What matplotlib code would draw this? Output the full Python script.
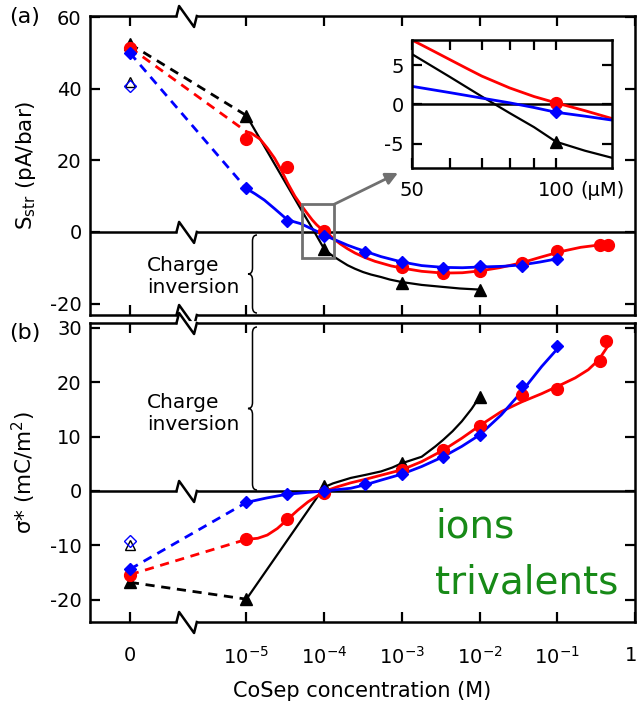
import numpy as np
import matplotlib
matplotlib.use("Agg")
import matplotlib.pyplot as plt
import matplotlib.transforms as mtransforms
from matplotlib.path import Path
from matplotlib.patches import PathPatch, Rectangle
from matplotlib.ticker import NullLocator, FixedLocator, NullFormatter

plt.rcParams["axes.unicode_minus"] = False
plt.rcParams["font.family"] = ["DejaVu Sans"]

# ---------------- data (concentration in M) ----------------
# panel (a): streaming conductance S_str (pA/bar)
conc_tri_a = [0, 1e-5, 1e-4, 1e-3, 1e-2]
tri_a = [52.5, 32.5, -4.8, -14.3, -16.1]
conc_circ_a = [0, 1e-5, 3.3e-5, 1e-4, 1e-3, 3.4e-3, 1e-2, 3.5e-2, 1e-1, 0.35, 0.45]
circ_a = [51.5, 26.0, 18.0, 0.2, -9.8, -11.5, -10.8, -8.7, -5.2, -3.6, -3.7]
conc_dia_a = [0, 1e-5, 3.3e-5, 1e-4, 3.4e-4, 1e-3, 3.4e-3, 1e-2, 3.5e-2, 1e-1]
dia_a = [50.0, 12.2, 3.1, -1.0, -5.5, -8.5, -10.1, -9.4, -9.6, -7.6]
open_tri_a, open_dia_a = 41.8, 40.8

fit_tri_a_x = [1e-5, 5e-5, 7.5e-5, 1e-4, 1.1e-4, 1.2e-4, 1.31e-4, 1.6e-4, 2e-4, 2.5e-4, 3.16e-4,
               4e-4, 5.4e-4, 7e-4, 1e-3, 1.8e-3, 3.16e-3, 5.6e-3, 1e-2]
fit_tri_a_y = [32.5, 6.4, 0.0, -4.75, -5.5, -6.2, -6.8, -8.0, -9.3, -10.3, -11.2,
               -11.9, -12.6, -13.3, -14.0, -14.8, -15.3, -15.8, -16.1]
fit_circ_a_x = [1e-5, 1.15e-5, 1.5e-5, 1.86e-5, 2.3e-5, 2.8e-5, 3.4e-5, 4.2e-5, 5e-5, 6e-5, 7e-5,
                8e-5, 9e-5, 1e-4, 1.15e-4, 1.31e-4, 1.6e-4, 2e-4, 2.5e-4, 3.3e-4, 4.5e-4, 7.3e-4,
                1e-3, 1.8e-3, 3.4e-3, 6e-3, 1e-2, 1.8e-2, 3.5e-2, 6e-2, 1.1e-1, 0.2, 0.36]
fit_circ_a_y = [28.0, 27.6, 25.9, 23.4, 20.6, 17.3, 13.6, 10.0, 7.6, 5.3, 3.4,
                2.0, 1.0, 0.2, -0.7, -1.8, -3.3, -4.7, -5.9, -7.1, -8.2, -9.5,
                -10.1, -11.0, -11.5, -11.4, -10.9, -10.0, -8.6, -7.1, -5.5, -4.3, -3.6]
fit_dia_a_x = [1e-5, 1.3e-5, 1.7e-5, 2.3e-5, 3.2e-5, 4e-5, 5e-5, 6e-5, 7e-5, 8e-5, 9e-5, 1e-4,
               1.31e-4, 1.6e-4, 2e-4, 2.6e-4, 3.46e-4, 5.4e-4, 1e-3, 1.8e-3, 3.4e-3, 6e-3, 1e-2,
               2e-2, 3.5e-2, 6e-2, 1e-1]
fit_dia_a_y = [12.1, 10.6, 8.9, 6.5, 3.8, 2.9, 2.3, 1.5, 0.8, 0.2, -0.3, -0.9,
               -2.0, -2.8, -3.7, -4.6, -5.5, -6.9, -8.4, -9.4, -9.9, -10.0, -9.8,
               -9.6, -9.2, -8.4, -7.5]

# panel (b): effective charge sigma* (mC/m2)
conc_tri_b = [0, 1e-5, 1e-4, 1e-3, 1e-2]
tri_b = [-16.8, -19.9, 0.9, 5.1, 17.3]
conc_circ_b = [0, 1e-5, 3.3e-5, 1e-4, 1e-3, 3.4e-3, 1e-2, 3.5e-2, 1e-1, 0.35, 0.42]
circ_b = [-15.4, -8.9, -5.2, -0.3, 3.9, 7.5, 11.9, 17.6, 18.7, 23.9, 27.6]
conc_dia_b = [0, 1e-5, 3.3e-5, 1e-4, 3.4e-4, 1e-3, 3.4e-3, 1e-2, 3.5e-2, 1e-1]
dia_b = [-14.4, -2.1, -0.6, 0.0, 1.3, 3.1, 6.3, 10.3, 19.3, 26.7]
open_tri_b, open_dia_b = -9.9, -9.2

fit_tri_b_x = [1e-5, 1e-4, 1.3e-4, 2.2e-4, 3.5e-4, 5.4e-4, 7.5e-4, 1e-3, 1.8e-3, 2.7e-3, 3.4e-3,
               4.5e-3, 5.9e-3, 7.9e-3, 1e-2]
fit_tri_b_y = [-19.9, 0.7, 1.4, 2.4, 3.0, 3.6, 4.3, 5.1, 6.3, 8.2, 9.4,
               11.0, 12.8, 15.1, 17.3]
fit_circ_b_x = [1e-5, 1.4e-5, 1.86e-5, 2.5e-5, 3.4e-5, 4.6e-5, 6.2e-5, 1e-4, 1.5e-4, 2.2e-4,
                3.5e-4, 5.4e-4, 1e-3, 1.8e-3, 3.4e-3, 5.9e-3, 1e-2, 1.9e-2, 3.5e-2, 6.3e-2,
                1.1e-1, 0.17, 0.25, 0.34, 0.46]
fit_circ_b_y = [-8.9, -8.7, -8.1, -6.9, -5.2, -3.5, -2.0, -0.1, 0.8, 1.5,
                2.2, 2.9, 3.9, 5.4, 7.5, 9.7, 12.0, 14.6, 16.4, 17.9,
                19.5, 20.8, 22.3, 24.1, 26.9]
fit_dia_b_x = [1e-5, 1.8e-5, 3.3e-5, 1e-4, 2.2e-4, 3.5e-4, 5.4e-4, 1e-3, 1.8e-3, 3.4e-3, 5.9e-3,
               1e-2, 1.9e-2, 3.5e-2, 6.3e-2, 1.1e-1]
fit_dia_b_y = [-2.1, -1.3, -0.6, 0.0, 0.5, 1.2, 2.0, 3.1, 4.5, 6.3, 8.2,
               10.3, 14.0, 18.3, 22.9, 26.8]

# inset (concentration in uM)
inset_x_tri = [50, 60, 70, 80, 90, 100, 115, 131]
inset_y_tri = [6.4, 3.5, 1.0, -1.1, -2.9, -4.75, -5.9, -6.8]
inset_x_circ = [50, 55, 60, 65, 70, 80, 90, 100, 115, 131]
inset_y_circ = [8.2, 6.9, 5.7, 4.6, 3.6, 2.1, 1.0, 0.2, -0.8, -1.8]
inset_x_dia = [50, 60, 70, 80, 90, 100, 115, 131]
inset_y_dia = [2.3, 1.5, 0.8, 0.2, -0.4, -1.0, -1.5, -2.0]
inset_pts = {"tri": -4.75, "circ": 0.2, "dia": -1.0}

xticks = [0, 1e-5, 1e-4, 1e-3, 1e-2, 1e-1, 1]
xticklabels = ["0", "$10^{-5}$", "$10^{-4}$", "$10^{-3}$", "$10^{-2}$", "$10^{-1}$", "1"]

# ---------------- figure ----------------
W, H = 639, 701
fig = plt.figure(figsize=(W / 100, H / 100), dpi=100)


def fx(px):
    return px / W


def fy(py):
    return 1 - py / H


ax_a = fig.add_axes([fx(90), fy(315), fx(635) - fx(90), fy(16) - fy(315)])
ax_b = fig.add_axes([fx(90), fy(622), fx(635) - fx(90), fy(323) - fy(622)])

RED, BLUE, BLACK = "#ff0000", "#0000ff", "#000000"
YLIM_A = (-23.2, 60.3)
YLIM_B = (-24.1, 30.9)


def style_axis(ax, ylim, yticks, show_xlabels):
    ax.set_xscale("symlog", linthresh=1e-6, linscale=0.45)
    ax.set_xlim(-1.03e-6, 1.0)
    ax.set_ylim(*ylim)
    ax.xaxis.set_major_locator(FixedLocator(xticks))
    ax.xaxis.set_minor_locator(NullLocator())
    ax.set_yticks(yticks)
    if show_xlabels:
        ax.set_xticklabels(xticklabels)
    else:
        ax.set_xticklabels([])
    ax.tick_params(direction="in", length=7, width=1.6, top=True, right=True,
                   labelsize=14, pad=6)
    ax.tick_params(axis="x", pad=17)
    for s in ax.spines.values():
        s.set_linewidth(1.8)
    ax.axhline(0, color="k", lw=1.8, zorder=1.5)


def draw_break(ax, yfrac):
    tr = mtransforms.blended_transform_factory(ax.transData, ax.transAxes)
    up, dn = 10 / 299, 11 / 299
    ax.plot([1.26e-6, 2.3e-6], [yfrac, yfrac], color="white", lw=3.5,
            transform=tr, clip_on=False, zorder=5, solid_capstyle="butt")
    ax.plot([1.26e-6, 1.36e-6, 2.12e-6, 2.3e-6], [yfrac, yfrac + up, yfrac - dn, yfrac],
            color="k", lw=1.8, transform=tr, clip_on=False, zorder=6)


def panel(ax, tri, circ, dia, fits, opens):
    (ctri, ytri), (ccirc, ycirc), (cdia, ydia) = tri, circ, dia
    # dashed connections from zero concentration
    for (c, y), col, end in [((ctri, ytri), BLACK, fits[0][1][0]),
                             ((ccirc, ycirc), RED, fits[1][1][0]),
                             ((cdia, ydia), BLUE, fits[2][1][0])]:
        ax.plot([c[0], c[1]], [y[0], end], ls=(0, (3.3, 2.4)), color=col, lw=2.0, zorder=2)
    # fits
    ax.plot(*fits[0], color=BLACK, lw=1.6, zorder=3)
    ax.plot(*fits[1], color=RED, lw=2.0, zorder=3)
    ax.plot(*fits[2], color=BLUE, lw=2.0, zorder=3)
    # open symbols at zero
    ax.plot([0], [opens[0]], marker="^", ms=7, mfc="white", mec=BLACK, mew=1, ls="none", zorder=4)
    ax.plot([0], [opens[1]], marker="D", ms=6, mfc="none", mec=BLUE, mew=1, ls="none", zorder=4)
    # markers
    ax.plot(ctri, ytri, "^", color=BLACK, ms=8.5, ls="none", zorder=4)
    ax.plot(ccirc, ycirc, "o", color=RED, ms=8.5, ls="none", zorder=4)
    ax.plot(cdia, ydia, "D", color=BLUE, ms=6.5, ls="none", zorder=4)


style_axis(ax_a, YLIM_A, [-20, 0, 20, 40, 60], False)
style_axis(ax_b, YLIM_B, [-20, -10, 0, 10, 20, 30], True)

# pull the last "1" label slightly inside the figure
lab = ax_b.get_xticklabels()[-1]
lab.set_transform(lab.get_transform() + mtransforms.ScaledTranslation(-4 / 100, 0, fig.dpi_scale_trans))

panel(ax_a, (conc_tri_a, tri_a), (conc_circ_a, circ_a), (conc_dia_a, dia_a),
      [(fit_tri_a_x, fit_tri_a_y), (fit_circ_a_x, fit_circ_a_y), (fit_dia_a_x, fit_dia_a_y)],
      (open_tri_a, open_dia_a))
panel(ax_b, (conc_tri_b, tri_b), (conc_circ_b, circ_b), (conc_dia_b, dia_b),
      [(fit_tri_b_x, fit_tri_b_y), (fit_circ_b_x, fit_circ_b_y), (fit_dia_b_x, fit_dia_b_y)],
      (open_tri_b, open_dia_b))

for ax, ylim in [(ax_a, YLIM_A), (ax_b, YLIM_B)]:
    for yf in (0.0, 1.0, (0 - ylim[0]) / (ylim[1] - ylim[0])):
        draw_break(ax, yf)

ax_a.set_ylabel(r"S$_{\rm str}$ (pA/bar)", fontsize=15.5)
ax_b.set_ylabel(r"σ* (mC/m$^2$)", fontsize=15.5)
ax_a.yaxis.set_label_coords(-0.096, 0.5)
ax_b.yaxis.set_label_coords(-0.096, 0.5)
ax_b.set_xlabel("CoSep concentration (M)", fontsize=15, labelpad=10)
fig.text(fx(9), fy(17), "(a)", fontsize=16, va="center", ha="left")
fig.text(fx(9), fy(333), "(b)", fontsize=16, va="center", ha="left")

# charge inversion text + braces
fig.text(fx(147), fy(293), "Charge\ninversion", fontsize=14.5, ha="left", va="baseline",
         linespacing=1.2)
fig.text(fx(147), fy(430), "Charge\ninversion", fontsize=14.5, ha="left", va="baseline",
         linespacing=1.2)


def brace(x_tip, x_end, y0, y1):
    xm = (x_tip + x_end) / 2
    ym = (y0 + y1) / 2
    r = 6
    pts = [(x_end, y0), (xm, y0), (xm, y0 + r), (xm, ym - r), (xm, ym), (x_tip, ym),
           (xm, ym), (xm, ym + r), (xm, y1 - r), (xm, y1), (x_end, y1)]
    codes = [Path.MOVETO, Path.CURVE3, Path.CURVE3, Path.LINETO, Path.CURVE3, Path.CURVE3,
             Path.CURVE3, Path.CURVE3, Path.LINETO, Path.CURVE3, Path.CURVE3]
    verts = [(fx(x), fy(y)) for x, y in pts]
    fig.patches.append(PathPatch(Path(verts, codes), fill=False, lw=1.1, ec="k",
                                 transform=fig.transFigure))


brace(248, 257, 235, 313)
brace(248, 257, 327, 490)

fig.text(fx(435), fy(538), "ions", fontsize=28, color="#178a17", ha="left", va="baseline")
fig.text(fx(435), fy(593), "trivalents", fontsize=28, color="#178a17", ha="left", va="baseline")

# zoom box and arrow
ax_a.add_patch(Rectangle((52e-6, -7.3), 134e-6 - 52e-6, 15.0, fill=False, ec="#707070",
                         lw=2.0, zorder=3.5))
ax_a.annotate("", xy=(fx(398), fy(173)), xycoords="figure fraction",
              xytext=(134e-6, 7.7), textcoords="data",
              arrowprops=dict(arrowstyle="-|>", color="#707070", lw=2.0, mutation_scale=18,
                              shrinkA=0, shrinkB=0))

# inset
ax_i = fig.add_axes([fx(412), fy(168), fx(612) - fx(412), fy(40) - fy(168)])
ax_i.set_xscale("log")
ax_i.set_xlim(50, 131)
ax_i.set_ylim(-8.1, 8.2)
ax_i.axhline(0, color="k", lw=1.8, zorder=1.5)
ax_i.plot(inset_x_tri, inset_y_tri, color=BLACK, lw=1.6)
ax_i.plot(inset_x_circ, inset_y_circ, color=RED, lw=2.0)
ax_i.plot(inset_x_dia, inset_y_dia, color=BLUE, lw=2.0)
ax_i.plot([100], [inset_pts["tri"]], "^", color=BLACK, ms=8.5)
ax_i.plot([100], [inset_pts["circ"]], "o", color=RED, ms=8.5)
ax_i.plot([100], [inset_pts["dia"]], "D", color=BLUE, ms=6.5)
ax_i.xaxis.set_major_locator(FixedLocator([50, 100]))
ax_i.xaxis.set_minor_locator(FixedLocator([60, 70, 80, 90]))
ax_i.set_xticklabels(["50", "100"])
ax_i.xaxis.set_minor_formatter(NullFormatter())
ax_i.set_yticks([-5, 0, 5])
ax_i.tick_params(which="both", direction="in", length=7, width=1.6, top=True, right=True,
                 labelsize=14, pad=6)
ax_i.tick_params(axis="x", pad=9)
for s in ax_i.spines.values():
    s.set_linewidth(1.8)
fig.text(fx(580), fy(196), "(μM)", fontsize=14, ha="left", va="baseline")

fig.savefig("out.png", dpi=100)
